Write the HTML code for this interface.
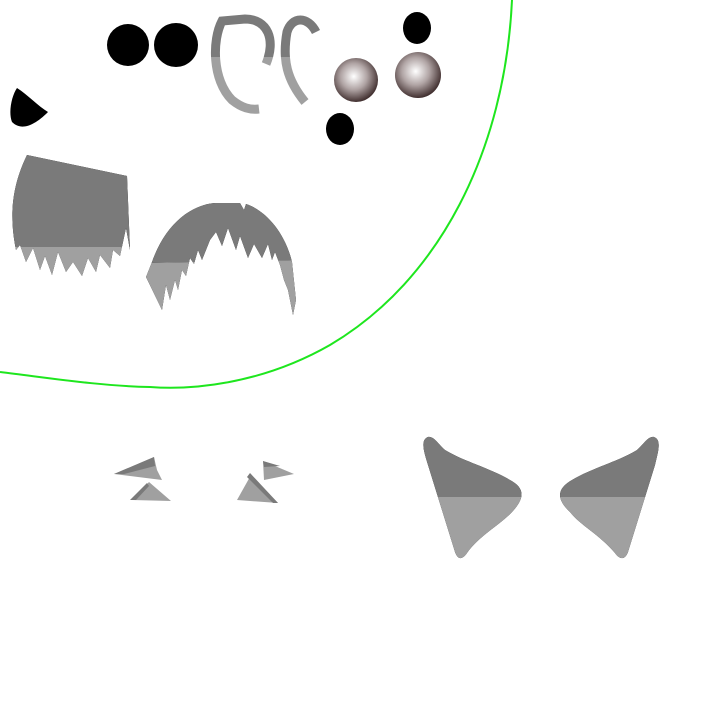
<!DOCTYPE html>
<html><head><style>html,body{margin:0;background:#fff}svg{display:block}</style></head><body>
<svg width="720" height="720" viewBox="0 0 720 720" xmlns="http://www.w3.org/2000/svg">
<defs>
<radialGradient id="sp" cx="0.45" cy="0.42" r="0.6">
<stop offset="0" stop-color="#fff"/><stop offset="0.5" stop-color="#b0a4a4"/><stop offset="1" stop-color="#3a2828"/>
</radialGradient>
<clipPath id="top1"><rect x="0" y="0" width="720" height="247"/></clipPath>
<clipPath id="bot1"><rect x="0" y="247" width="720" height="100"/></clipPath>
<clipPath id="top2"><polygon points="140,150 300,150 300,260 140,263"/></clipPath>
<clipPath id="bot2"><polygon points="140,263 300,260 300,330 140,330"/></clipPath>
<clipPath id="ctop"><rect x="0" y="0" width="720" height="57"/></clipPath>
<clipPath id="cbot"><rect x="0" y="57" width="720" height="100"/></clipPath>
<clipPath id="etop"><rect x="400" y="400" width="300" height="97"/></clipPath>
<clipPath id="ebot"><rect x="400" y="497" width="300" height="100"/></clipPath>
</defs>
<!-- green curve -->
<path d="M512,0 C505,150 440,280 330,345 C260,385 190,390 150,387 C100,386 50,378 0,372" fill="none" stroke="#1ee61e" stroke-width="2"/>
<!-- black dots -->
<circle cx="128" cy="45" r="21" fill="#000"/>
<circle cx="176" cy="45" r="22" fill="#000"/>
<ellipse cx="417" cy="28" rx="14" ry="16" fill="#000"/>
<ellipse cx="340" cy="129" rx="14" ry="16" fill="#000"/>
<path d="M17,88 C12,95 8,112 12,122 C20,130 32,128 48,112 C38,106 28,95 17,88Z" fill="#000"/>
<!-- spheres -->
<circle cx="356" cy="80" r="22" fill="url(#sp)"/>
<circle cx="418" cy="75" r="23" fill="url(#sp)"/>
<!-- curls -->
<g fill="none" stroke-width="9" stroke-linecap="butt">
<g clip-path="url(#ctop)" stroke="#7a7a7a">
<path d="M266,64 C276,40 268,19 245,19 L222,21 C212,40 212,80 232,100 C242,108 250,110 259,109"/>
<path d="M316,32 C308,16 292,16 287,32 C282,60 287,80 305,102"/>
</g>
<g clip-path="url(#cbot)" stroke="#a0a0a0">
<path d="M266,64 C276,40 268,19 245,19 L222,21 C212,40 212,80 232,100 C242,108 250,110 259,109"/>
<path d="M316,32 C308,16 292,16 287,32 C282,60 287,80 305,102"/>
</g>
</g>
<!-- left hair block -->
<g id="h1">
<path d="M27,155 L127,176 L130,250 L126,228 L120,256 L113,250 L110,268 L100,255 L96,272 L88,258 L82,276 L73,262 L66,272 L58,252 L52,275 L45,256 L40,270 L33,248 L26,262 L20,245 L16,250 C10,220 10,190 27,155Z"/>
</g>
<use href="#h1" clip-path="url(#top1)" fill="#7a7a7a"/>
<use href="#h1" clip-path="url(#bot1)" fill="#a0a0a0"/>
<!-- right hair -->
<g id="h2">
<path d="M152,262 C165,225 190,205 215,203 L240,203 L244,210 L246,204 C265,210 285,232 292,262 L296,300 L293,315 L288,290 L284,280 L280,265 L275,252 L272,260 L268,244 L262,258 L254,244 L248,258 L240,236 L236,250 L228,228 L222,246 L216,232 L210,240 L206,250 L202,260 L198,250 L194,264 L190,258 L186,276 L182,270 L178,290 L175,280 L170,300 L166,285 L162,310 L146,277 Z"/>
</g>
<use href="#h2" clip-path="url(#top2)" fill="#7a7a7a"/>
<use href="#h2" clip-path="url(#bot2)" fill="#a0a0a0"/>
<!-- small triangles -->
<polygon points="114,474 154,457 157,470 162,480" fill="#a0a0a0"/>
<polygon points="114,474 154,457 155,466 124,474" fill="#7a7a7a"/>
<polygon points="132,500 149,482 171,501" fill="#a0a0a0"/>
<polygon points="130,500 147,483 149,486 136,500" fill="#7a7a7a"/>
<polygon points="263,461 294,474 264,480" fill="#a0a0a0"/>
<polygon points="263,461 280,466 264,467" fill="#7a7a7a"/>
<polygon points="237,500 251,475 278,503" fill="#a0a0a0"/>
<polygon points="250,473 278,503 273,503 247,477" fill="#7a7a7a"/>
<!-- ears -->
<g id="e1"><path d="M428,437 C420,440 424,452 428,465 L455,552 C458,560 462,560 467,553 C480,535 500,525 512,512 C525,498 525,488 510,480 C490,468 465,462 445,450 C438,444 434,436 428,437Z"/></g>
<g id="e2"><path d="M654,437 C662,440 658,452 655,465 L628,552 C625,560 620,560 615,553 C600,535 580,525 570,512 C555,498 558,488 572,480 C592,468 617,462 637,450 C644,444 648,436 654,437Z"/></g>
<use href="#e1" clip-path="url(#etop)" fill="#7a7a7a"/>
<use href="#e1" clip-path="url(#ebot)" fill="#a0a0a0"/>
<use href="#e2" clip-path="url(#etop)" fill="#7a7a7a"/>
<use href="#e2" clip-path="url(#ebot)" fill="#a0a0a0"/>
</svg>
</body></html>
